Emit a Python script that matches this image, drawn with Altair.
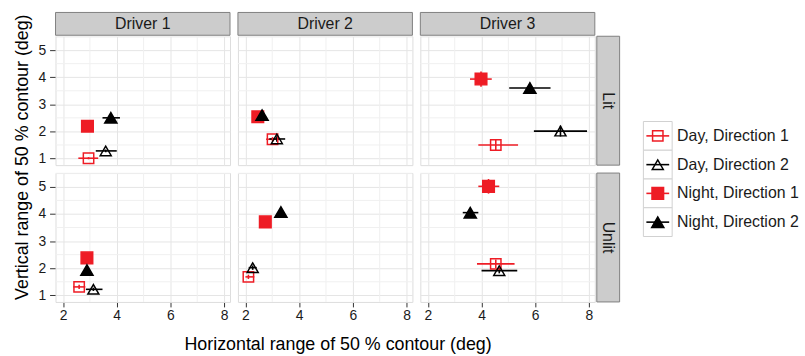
import altair as alt
import pandas as pd

drivers = ["Driver 1", "Driver 2", "Driver 3"]
lights = ["Lit", "Unlit"]
series = ["Day, Direction 1", "Day, Direction 2", "Night, Direction 1", "Night, Direction 2"]

# Panels in order: Lit (Driver 1..3), then Unlit (Driver 1..3); one value per series
panels = [(d, l) for l in lights for d in drivers]

x_mean = [
    [2.95, 3.59, 2.91, 3.78],
    [3.01, 3.17, 2.46, 2.62],
    [4.53, 6.94, 3.98, 5.80],
    [2.60, 3.13, 2.89, 2.89],
    [2.11, 2.27, 2.74, 3.32],
    [4.53, 4.66, 4.26, 3.58],
]
x_low = [
    [2.57, 3.22, 2.86, 3.47],
    [2.77, 2.89, 2.41, 2.55],
    [3.88, 5.95, 3.57, 5.03],
    [2.38, 2.85, 2.84, 2.84],
    [2.00, 2.12, 2.69, 3.26],
    [3.83, 4.00, 3.88, 3.30],
]
x_high = [
    [3.31, 4.00, 2.96, 4.12],
    [3.26, 3.48, 2.51, 2.70],
    [5.36, 7.93, 4.38, 6.57],
    [2.83, 3.47, 2.94, 2.94],
    [2.33, 2.42, 2.79, 3.38],
    [5.23, 5.33, 4.66, 3.88],
]
y_mean = [
    [1.01, 1.28, 2.19, 2.50],
    [1.71, 1.72, 2.54, 2.60],
    [1.50, 2.01, 3.93, 3.60],
    [1.31, 1.22, 2.38, 1.93],
    [1.68, 2.02, 3.71, 4.07],
    [2.16, 1.91, 5.02, 4.05],
]
y_low = [
    [0.97, 1.23, 2.14, 2.44],
    [1.63, 1.62, 2.49, 2.55],
    [1.30, 1.81, 3.65, 3.40],
    [1.23, 1.16, 2.33, 1.88],
    [1.60, 1.94, 3.66, 4.02],
    [2.00, 1.81, 4.75, 3.97],
]
y_high = [
    [1.05, 1.33, 2.24, 2.56],
    [1.79, 1.82, 2.59, 2.65],
    [1.70, 2.21, 4.21, 3.79],
    [1.39, 1.28, 2.43, 1.98],
    [1.76, 2.10, 3.76, 4.12],
    [2.32, 2.01, 5.29, 4.13],
]

x_ticks = [2, 4, 6, 8]
y_ticks = [1, 2, 3, 4, 5]
x_minor = [3, 5, 7]
y_minor = [1.5, 2.5, 3.5, 4.5, 5.5]

RED = "#EE1C25"
BLACK = "#000000"
series_stroke = [RED, BLACK, RED, BLACK]
series_fill = ["transparent", "transparent", RED, BLACK]
series_shape = ["square", "triangle-up", "square", "triangle-up"]
series_size = [110, 150, 110, 150]

FONT = "Liberation Sans"
W, H = 176, 130

# one long table: observations, one row per panel (for strips), minor grid positions
rows = []
for i, (d, l) in enumerate(panels):
    for j, s in enumerate(series):
        rows.append(dict(kind="obs", driver=d, light=l, series=s,
                         x=x_mean[i][j], xlo=x_low[i][j], xhi=x_high[i][j],
                         y=y_mean[i][j], ylo=y_low[i][j], yhi=y_high[i][j]))
    rows.append(dict(kind="panel", driver=d, light=l))
    for v in x_minor:
        rows.append(dict(kind="minorx", driver=d, light=l, v=v))
    for v in y_minor:
        rows.append(dict(kind="minory", driver=d, light=l, v=v))
df = pd.DataFrame(rows)

xscale = alt.Scale(domain=[1.72, 8.22], nice=False, zero=False)
yscale = alt.Scale(domain=[0.755, 5.51], nice=False, zero=False)
x_axis = alt.Axis(values=x_ticks, title=None, grid=True, gridColor="#e5e5e5",
                  domain=False, ticks=True, tickSize=5, tickColor="#333333",
                  labelFontSize=14, labelColor="#1a1a1a", labelPadding=2, labelFont=FONT)
y_axis = alt.Axis(values=y_ticks, title=None, grid=True, gridColor="#e5e5e5",
                  domain=False, ticks=True, tickSize=6, tickColor="#333333",
                  labelFontSize=14, labelColor="#1a1a1a", labelPadding=4, labelFont=FONT)

stroke_scale = alt.Scale(domain=series, range=series_stroke)
fill_scale = alt.Scale(domain=series, range=series_fill)
shape_scale = alt.Scale(domain=series, range=series_shape)
size_scale = alt.Scale(domain=series, range=series_size)

base = alt.Chart()

minor_x = base.transform_filter(alt.datum.kind == "minorx").mark_rule(
    color="#f0f0f0", strokeWidth=1).encode(x=alt.X("v:Q", scale=xscale, axis=x_axis))
minor_y = base.transform_filter(alt.datum.kind == "minory").mark_rule(
    color="#f0f0f0", strokeWidth=1).encode(y=alt.Y("v:Q", scale=yscale, axis=y_axis))

obs = base.transform_filter(alt.datum.kind == "obs")
hbars = obs.mark_rule(strokeWidth=1.6).encode(
    x=alt.X("xlo:Q", scale=xscale, axis=x_axis), x2="xhi:Q",
    y=alt.Y("y:Q", scale=yscale, axis=y_axis),
    color=alt.Color("series:N", scale=stroke_scale, legend=None))
vbars = obs.mark_rule(strokeWidth=1.6).encode(
    x=alt.X("x:Q", scale=xscale, axis=x_axis),
    y=alt.Y("ylo:Q", scale=yscale, axis=y_axis), y2="yhi:Q",
    color=alt.Color("series:N", scale=stroke_scale, legend=None))
points = obs.mark_point(strokeWidth=1.5, opacity=1, fillOpacity=1).encode(
    x=alt.X("x:Q", scale=xscale, axis=x_axis),
    y=alt.Y("y:Q", scale=yscale, axis=y_axis),
    stroke=alt.Stroke("series:N", scale=stroke_scale, legend=None),
    fill=alt.Fill("series:N", scale=fill_scale, legend=None),
    shape=alt.Shape("series:N", scale=shape_scale, legend=None),
    size=alt.Size("series:N", scale=size_scale, legend=None))

# grey strips: driver names above the top row, light condition right of Driver 3
top_panel = base.transform_filter((alt.datum.kind == "panel") & (alt.datum.light == "Lit"))
top_strip = top_panel.mark_rect(fill="#cccccc", stroke="#808080", strokeWidth=1).encode(
    x=alt.value(0), x2=alt.value(W), y=alt.value(-24), y2=alt.value(-1))
top_text = top_panel.mark_text(fontSize=16, font=FONT, color="#1a1a1a", baseline="middle").encode(
    x=alt.value(W / 2), y=alt.value(-12.5), text="driver:N")

right_panel = base.transform_filter((alt.datum.kind == "panel") & (alt.datum.driver == "Driver 3"))
right_strip = right_panel.mark_rect(fill="#cccccc", stroke="#808080", strokeWidth=1).encode(
    x=alt.value(W + 2), x2=alt.value(W + 25), y=alt.value(0), y2=alt.value(H))
right_text = right_panel.mark_text(fontSize=16, font=FONT, color="#1a1a1a", angle=90,
                                   baseline="middle").encode(
    x=alt.value(W + 13.5), y=alt.value(H / 2), text="light:N")

panel_layers = alt.layer(minor_x, minor_y, hbars, vbars, points,
                         top_strip, top_text, right_strip, right_text,
                         data=df).properties(width=W, height=H)

grid = panel_layers.facet(
    row=alt.Row("light:N", sort=lights,
                header=alt.Header(title="Vertical range of 50 % contour (deg)", labels=False,
                                  titleFontSize=18, titleFont=FONT, titleFontWeight="normal",
                                  titleColor="#000000", titlePadding=-4)),
    column=alt.Column("driver:N", sort=drivers,
                      header=alt.Header(title="Horizontal range of 50 % contour (deg)",
                                        labels=False, titleOrient="bottom",
                                        titleFontSize=18, titleFont=FONT,
                                        titleFontWeight="normal", titleColor="#000000",
                                        titlePadding=3)),
    spacing=8,
    bounds="flush",
)

# legend drawn as its own small panel: boxed keys with a bar through each symbol
leg_df = pd.DataFrame({"series": series})
leg_y = alt.Y("series:N", sort=series, axis=None,
              scale=alt.Scale(range=[86, 202], paddingInner=0, paddingOuter=0))
leg_base = alt.Chart(leg_df)
leg_box = leg_base.mark_rect(fill="white", stroke="#d0d0d0", strokeWidth=1).encode(
    x=alt.value(0), x2=alt.value(29), y=leg_y)
leg_bar = leg_base.mark_rule(strokeWidth=1.6).encode(
    x=alt.value(3), x2=alt.value(26), y=leg_y,
    color=alt.Color("series:N", scale=stroke_scale, legend=None))
leg_pt = leg_base.mark_point(strokeWidth=1.5, opacity=1, fillOpacity=1).encode(
    x=alt.value(14.5), y=leg_y,
    stroke=alt.Stroke("series:N", scale=stroke_scale, legend=None),
    fill=alt.Fill("series:N", scale=fill_scale, legend=None),
    shape=alt.Shape("series:N", scale=shape_scale, legend=None),
    size=alt.Size("series:N", scale=size_scale, legend=None))
leg_txt = leg_base.mark_text(align="left", baseline="middle", fontSize=16, font=FONT,
                             color="#1a1a1a").encode(x=alt.value(34), y=leg_y, text="series:N")
legend = alt.layer(leg_box, leg_bar, leg_pt, leg_txt).properties(
    width=150, height=240, view=alt.ViewBackground(stroke="transparent"))

chart = alt.hconcat(grid, legend, spacing=22).resolve_scale(
    color="independent", stroke="independent", fill="independent", shape="independent",
    size="independent"
).configure_view(stroke="#808080", strokeWidth=1).configure(
    font=FONT, background="white", padding={"left": 13, "top": 10, "right": 5, "bottom": 5})

chart.save("out.html", embed_options={"renderer": "svg", "actions": False})
